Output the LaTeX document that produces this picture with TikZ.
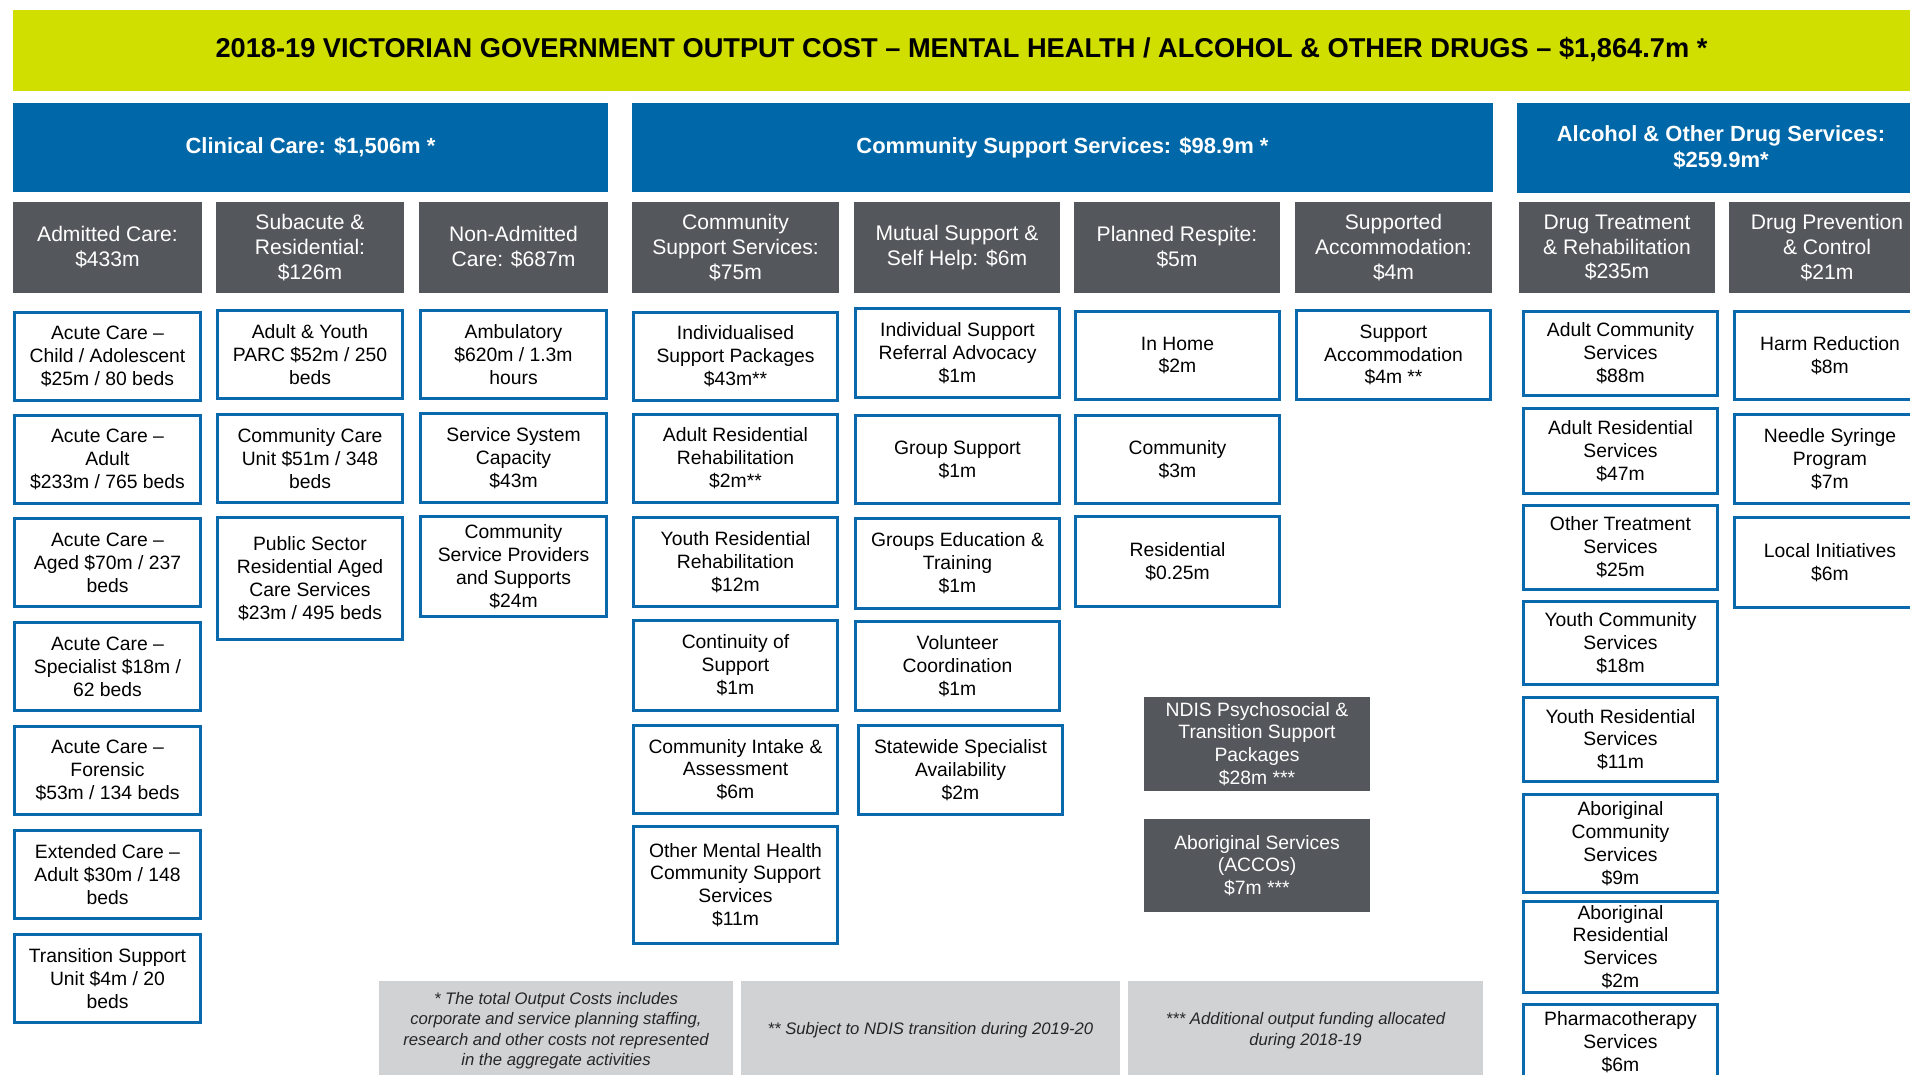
\documentclass[tikz,border=0pt]{standalone}
\usepackage{fontspec}
\setmainfont{Liberation Sans}
\usepackage{tikz}
\usetikzlibrary{positioning}
\usepackage{xcolor}

\definecolor{limebar}{HTML}{D0DE00}
\definecolor{headblue}{HTML}{0068A8}
\definecolor{darkgrey}{HTML}{54575C}
\definecolor{boxblue}{HTML}{0A68AC}
\definecolor{notegrey}{HTML}{D1D2D4}

\begin{document}
\begin{tikzpicture}[x=0.02cm, y=-0.02cm,
    wh/.style 2 args={minimum width={#1*0.02cm}, minimum height={#2*0.02cm}},
    iwh/.style 2 args={minimum width={(#1-3)*0.02cm}, minimum height={(#2-3)*0.02cm}},
    box/.style={inner sep=0pt, align=center},
    titlebar/.style={box, fill=limebar, font=\fontsize{15.5}{18}\selectfont\bfseries},
    bluehead/.style={box, fill=headblue, text=white, font=\fontsize{12.5}{15.2}\selectfont\bfseries},
    greyhead/.style={box, fill=darkgrey, text=white, font=\fontsize{12}{14.2}\selectfont},
    item/.style={box, draw=boxblue, line width=1.7pt, fill=white, font=\fontsize{11}{13}\selectfont},
    note/.style={box, fill=notegrey, text=black!85, font=\fontsize{9.5}{11.6}\selectfont\itshape}]
    \useasboundingbox (0,0) rectangle (1910,1075);
    \clip (0,0) rectangle (1910,1075);

    % Title band
    \node[titlebar, wh={1897}{81}] (title) at (961.5,50)
        {2018-19 VICTORIAN GOVERNMENT OUTPUT COST – MENTAL HEALTH / ALCOHOL \& OTHER DRUGS – \$1,864.7m *};

    % Program headers
    \node[bluehead, wh={595}{89}] (clinical) at (310.5,147.5) {Clinical Care: \$1,506m *};
    \node[bluehead, wh={861}{89}] (community) at (1062.5,147.5) {Community Support Services: \$98.9m *};
    \node[bluehead, wh={408}{90}] (aod) at (1721,147.5) {Alcohol \& Other Drug Services:\\\$259.9m*};

    % Sub-program headers
    \node[greyhead, wh={189}{91}] (admitted) at (107.5,247.5) {Admitted Care:\\\$433m};
    \node[greyhead, wh={188}{91}] (subacute) at (310,247.5) {Subacute \&\\Residential:\\\$126m};
    \node[greyhead, wh={189}{91}] (nonadm) at (513.5,247.5) {Non-Admitted\\Care: \$687m};
    \node[greyhead, wh={207}{91}] (cssub) at (735.5,247.5) {Community\\Support Services:\\\$75m};
    \node[greyhead, wh={206}{91}] (mutual) at (957,247.5) {Mutual Support \&\\Self Help: \$6m};
    \node[greyhead, wh={206}{91}] (respite) at (1177,247.5) {Planned Respite:\\\$5m};
    \node[greyhead, wh={197}{91}] (suppacc) at (1393.5,247.5) {Supported\\Accommodation:\\\$4m};
    \node[greyhead, wh={196}{91}] (drugtreat) at (1617,247.5) {Drug Treatment\\\& Rehabilitation\\\$235m};
    \node[greyhead, wh={196}{91}] (drugprev) at (1827,247.5) {Drug Prevention\\\& Control\\\$21m};

    % Admitted care
    \node[item, iwh={189}{91}] (acchild) at (107.5,356.5) {Acute Care –\\Child / Adolescent\\\$25m / 80 beds};
    \node[item, iwh={189}{91}] (acadult) at (107.5,459.5) {Acute Care –\\Adult\\\$233m / 765 beds};
    \node[item, iwh={189}{91}] (acaged) at (107.5,562.5) {Acute Care –\\Aged \$70m / 237\\beds};
    \node[item, iwh={189}{91}] (acspec) at (107.5,666.5) {Acute Care –\\Specialist \$18m /\\62 beds};
    \node[item, iwh={189}{91}] (acforen) at (107.5,770.5) {Acute Care –\\Forensic\\\$53m / 134 beds};
    \node[item, iwh={189}{91}] (extcare) at (107.5,874.5) {Extended Care –\\Adult \$30m / 148\\beds};
    \node[item, iwh={189}{91}] (transunit) at (107.5,978.5) {Transition Support\\Unit \$4m / 20\\beds};

    % Subacute & residential
    \node[item, iwh={188}{91}] (parc) at (310,354.5) {Adult \& Youth\\PARC \$52m / 250\\beds};
    \node[item, iwh={188}{91}] (ccu) at (310,458.5) {Community Care\\Unit \$51m / 348\\beds};
    \node[item, iwh={188}{125}] (psrac) at (310,578.5) {Public Sector\\Residential Aged\\Care Services\\\$23m / 495 beds};

    % Non-admitted
    \node[item, iwh={189}{91}] (ambul) at (513.5,354.5) {Ambulatory\\\$620m / 1.3m\\hours};
    \node[item, iwh={189}{92}] (syscap) at (513.5,458) {Service System\\Capacity\\\$43m};
    \node[item, iwh={189}{103}] (csprov) at (513.5,566.5) {Community\\Service Providers\\and Supports\\\$24m};

    % Community support services
    \node[item, iwh={207}{91}] (isp) at (735.5,356.5) {Individualised\\Support Packages\\\$43m**};
    \node[item, iwh={207}{91}] (adultrr) at (735.5,458.5) {Adult Residential\\Rehabilitation\\\$2m**};
    \node[item, iwh={207}{92}] (youthrr) at (735.5,562) {Youth Residential\\Rehabilitation\\\$12m};
    \node[item, iwh={207}{93}] (contsup) at (735.5,665.5) {Continuity of\\Support\\\$1m};
    \node[item, iwh={207}{91}] (intake) at (735.5,769.5) {Community Intake \&\\Assessment\\\$6m};
    \node[item, iwh={207}{120}] (othermh) at (735.5,885) {Other Mental Health\\Community Support\\Services\\\$11m};

    % Mutual support & self help
    \node[item, iwh={207}{92}] (isra) at (957.5,353) {Individual Support\\Referral Advocacy\\\$1m};
    \node[item, iwh={207}{91}] (grpsup) at (957.5,459.5) {Group Support\\\$1m};
    \node[item, iwh={207}{93}] (grpedu) at (957.5,563.5) {Groups Education \&\\Training\\\$1m};
    \node[item, iwh={207}{92}] (volcoord) at (957.5,666) {Volunteer\\Coordination\\\$1m};
    \node[item, iwh={207}{92}] (statewide) at (960.5,770) {Statewide Specialist\\Availability\\\$2m};

    % Planned respite
    \node[item, iwh={207}{91}] (inhome) at (1177.5,355.5) {In Home\\\$2m};
    \node[item, iwh={207}{91}] (respcomm) at (1177.5,459.5) {Community\\\$3m};
    \node[item, iwh={207}{93}] (respres) at (1177.5,561.5) {Residential\\\$0.25m};

    % Supported accommodation
    \node[item, iwh={197}{92}] (suppaccom) at (1393.5,355) {Support\\Accommodation\\\$4m **};

    % Additional funding
    \node[greyhead, font=\fontsize{11}{13}\selectfont, wh={226}{94}] (ndis) at (1257,744)
        {NDIS Psychosocial \&\\Transition Support\\Packages\\\$28m ***};
    \node[greyhead, font=\fontsize{11}{13}\selectfont, wh={226}{93}] (accos) at (1257,865.5)
        {Aboriginal Services\\(ACCOs)\\\$7m ***};

    % Drug treatment & rehabilitation
    \node[item, iwh={197}{87}] (adultcs) at (1620.5,353.5) {Adult Community\\Services\\\$88m};
    \node[item, iwh={197}{88}] (adultrs) at (1620.5,451) {Adult Residential\\Services\\\$47m};
    \node[item, iwh={197}{87}] (othertreat) at (1620.5,547.5) {Other Treatment\\Services\\\$25m};
    \node[item, iwh={197}{86}] (youthcs) at (1620.5,643) {Youth Community\\Services\\\$18m};
    \node[item, iwh={197}{87}] (youthrs) at (1620.5,739.5) {Youth Residential\\Services\\\$11m};
    \node[item, iwh={197}{101}] (abcomm) at (1620.5,843.5) {Aboriginal\\Community\\Services\\\$9m};
    \node[item, iwh={197}{94}] (abres) at (1620.5,947) {Aboriginal\\Residential\\Services\\\$2m};
    \node[item, iwh={197}{78}] (pharma) at (1620.5,1042) {Pharmacotherapy\\Services\\\$6m};

    % Drug prevention & control
    \node[item, iwh={194}{91}] (harmred) at (1830,355.5) {Harm Reduction\\\$8m};
    \node[item, iwh={194}{92}] (needle) at (1830,459) {Needle Syringe\\Program\\\$7m};
    \node[item, iwh={194}{93}] (localinit) at (1830,562.5) {Local Initiatives\\\$6m};

    % Footnotes
    \node[note, wh={354}{99}] (note1) at (556,1030.5)
        {* The total Output Costs includes\\corporate and service planning staffing,\\research and other costs not represented\\in the aggregate activities};
    \node[note, wh={379}{99}] (note2) at (930.5,1030.5) {** Subject to NDIS transition during 2019-20};
    \node[note, wh={355}{99}] (note3) at (1305.5,1030.5) {*** Additional output funding allocated\\during 2018-19};
\end{tikzpicture}
\end{document}
